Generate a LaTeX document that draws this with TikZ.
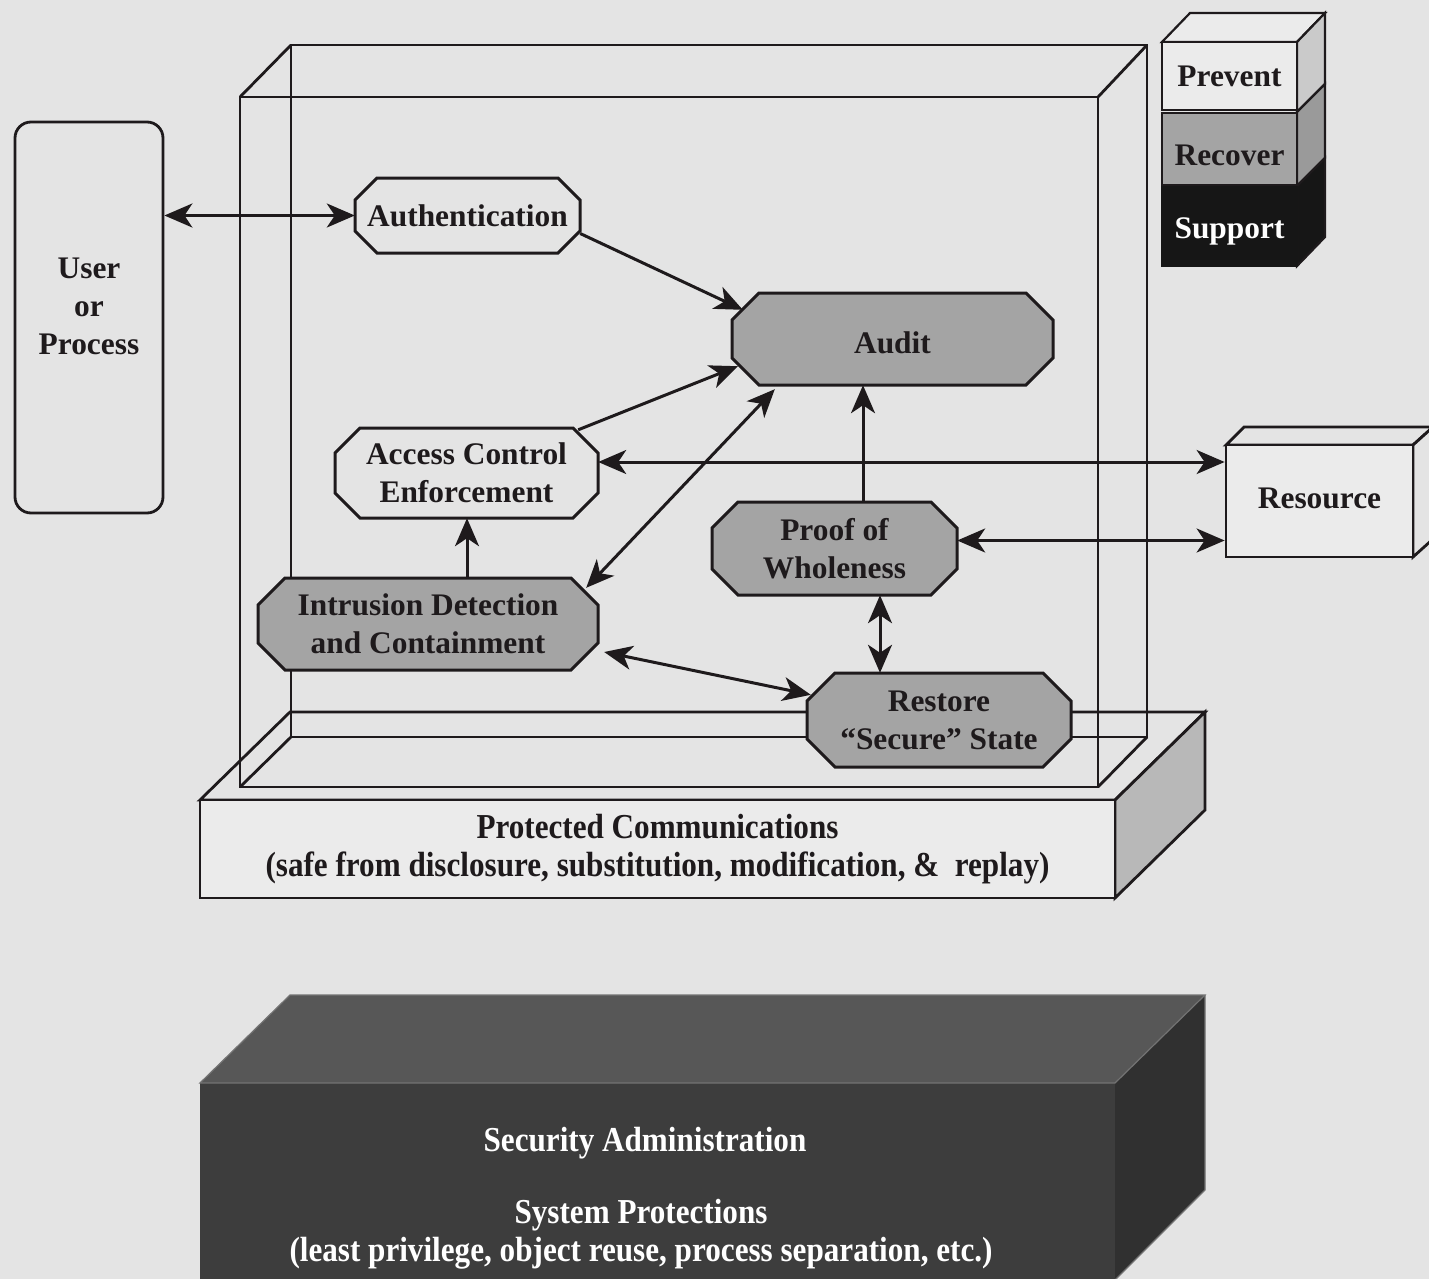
\documentclass[tikz,border=0pt]{standalone}
\usepackage{fontspec}
\setmainfont{Liberation Serif}
\newfontfamily\condfont{Liberation Serif}[FakeStretch=0.89]
\usetikzlibrary{arrows.meta,calc}
\definecolor{bg}{HTML}{E4E4E4}
\definecolor{lite}{HTML}{EBEBEB}
\definecolor{midgray}{HTML}{A4A4A4}
\definecolor{sidegray}{HTML}{B8B8B8}
\definecolor{lightside}{HTML}{CACACA}
\definecolor{recside}{HTML}{9A9A9A}
\definecolor{darktop}{HTML}{575757}
\definecolor{darkfront}{HTML}{3D3D3D}
\definecolor{darkside}{HTML}{303030}
\definecolor{ink}{HTML}{1E1A1C}
\definecolor{suppblack}{HTML}{161616}
\newcommand\octbox[8]{%
  \path[#7] ({#2-#4/2+#6},{#3-#5/2}) -- ({#2+#4/2-#6},{#3-#5/2}) -- ({#2+#4/2},{#3-#5/2+#6}) -- ({#2+#4/2},{#3+#5/2-#6}) -- ({#2+#4/2-#6},{#3+#5/2}) -- ({#2-#4/2+#6},{#3+#5/2}) -- ({#2-#4/2},{#3+#5/2-#6}) -- ({#2-#4/2},{#3-#5/2+#6}) -- cycle;
  \node[txt, minimum width=#4, minimum height=#5] (#1) at (#2,#3) {#8};
}
\newcommand\shiftdown[2]{\raisebox{-#1}[\height][\depth]{#2}}
\begin{document}
\begin{tikzpicture}[x=1pt,y=-1pt,line join=miter,
  wire/.style={draw=ink, line width=2.8pt},
  txt/.style={font=\fontsize{31.4}{38}\selectfont\bfseries, text=ink, align=center, inner sep=0pt},
  ctxt/.style={font=\condfont\fontsize{35}{38}\selectfont\bfseries, text=ink, align=center, inner sep=0pt},
  octwhite/.style={fill=bg, draw=ink, line width=3pt},
  octgray/.style={fill=midgray, draw=ink, line width=3pt},
  bigtip/.tip={Stealth[length=28pt,width=24pt,inset=8pt]},
  conn/.style={draw=ink, line width=3pt, -bigtip},
  biconn/.style={draw=ink, line width=3pt, bigtip-bigtip},
  slabedge/.style={draw=black!55, line width=1.2pt}
]
\useasboundingbox (0,0) rectangle (1429,1279);
\clip (0,0) rectangle (1429,1279);
\fill[bg] (0,0) rectangle (1429,1279);

% ---- lower dark slab
\fill[darktop] (200,1083) -- (290,995) -- (1205,995) -- (1115,1083) -- cycle;
\fill[darkside] (1115,1083) -- (1205,995) -- (1205,1190) -- (1115,1280) -- cycle;
\node[fill=darkfront, minimum width=915, minimum height=220, inner sep=0pt, anchor=north west] (slab) at (200,1083) {};
\draw[slabedge] (200,1083) -- (290,995) -- (1205,995) -- (1115,1083) -- cycle;
\draw[slabedge] (1205,995) -- (1205,1190) -- (1115,1280);
\node[ctxt, text=white] (secadm) at (645,1143) {Security Administration};
\node[ctxt, text=white] (sysprot) at (641,1234) {System Protections\\(least privilege, object reuse, process separation, etc.)};

% ---- protected communications platform
\draw[wire, fill=bg] (200,800) -- (290,712) -- (1205,712) -- (1115,800) -- cycle;
\draw[wire, fill=sidegray] (1115,800) -- (1205,712) -- (1205,810) -- (1115,898) -- cycle;
\node[ctxt, draw=ink, line width=2.8pt, fill=lite, minimum width=915, minimum height=98] (pc) at (657.5,849) {Protected Communications\\(safe from disclosure, substitution, modification, \&\ \ replay)};

% ---- glass box
\draw[wire] (291,45) rectangle (1147,737);
\draw[wire] (240,97) rectangle (1098,787);
\draw[wire] (291,45) -- (240,97) (1147,45) -- (1098,97) (291,737) -- (240,787) (1147,737) -- (1098,787);

% ---- legend stack
\draw[wire, line width=2.2pt, fill=lite] (1162,42) -- (1190,13) -- (1325,13) -- (1297,42) -- cycle;
\draw[wire, line width=2.2pt, fill=lightside] (1297,42) -- (1325,13) -- (1325,84) -- (1297,112) -- cycle;
\draw[wire, line width=2.2pt, fill=recside] (1297,112) -- (1325,84) -- (1325,158) -- (1297,186) -- cycle;
\draw[wire, line width=2.2pt, fill=suppblack] (1297,186) -- (1325,158) -- (1325,237) -- (1297,266) -- cycle;
\node[txt, draw=ink, line width=2.2pt, fill=lite, minimum width=135, minimum height=68] (prevent) at (1229.5,76) {Prevent};
\node[txt, draw=ink, line width=2.2pt, fill=midgray, minimum width=135, minimum height=72] (recover) at (1229.5,149) {\shiftdown{6pt}{Recover}};
\node[txt, text=white, draw=suppblack, line width=2.2pt, fill=suppblack, minimum width=135, minimum height=79] (support) at (1229.5,226.5) {\shiftdown{5pt}{Support}};

% ---- resource box
\draw[wire, fill=bg] (1226,445) -- (1244,427) -- (1433,427) -- (1413,445) -- cycle;
\draw[wire, fill=bg] (1413,445) -- (1433,427) -- (1433,539) -- (1413,557) -- cycle;
\node[txt, draw=ink, line width=2.8pt, fill=lite, minimum width=187, minimum height=112] (res) at (1319.5,501) {\shiftdown{-3pt}{Resource}};

% ---- user
\node[draw=ink, line width=2.8pt, rounded corners=16pt, fill=bg, minimum width=148, minimum height=391] (user) at (89,317.5) {};
\node[txt] (usertxt) at (89,306.5) {User\\or\\Process};

% ---- octagon nodes
\octbox{auth}{467.5}{215.5}{225}{75}{22}{octwhite}{Authentication}
\octbox{audit}{892.5}{339}{321}{92}{27}{octgray}{\shiftdown{4pt}{Audit}}
\octbox{ac}{466.5}{473}{263}{90}{25}{octwhite}{Access Control\\Enforcement}
\octbox{intr}{428}{624}{340}{92}{27}{octgray}{Intrusion Detection\\and Containment}
\octbox{proof}{834.5}{548.5}{245}{93}{26}{octgray}{Proof of\\Wholeness}
\octbox{restore}{939}{720}{264}{94}{28}{octgray}{Restore\\“Secure” State}

% ---- connectors
\draw[biconn] (user.east |- auth.west) -- (auth.west);
\draw[conn] ($(auth.east)+(0,18)$) -- ($(audit.north west)+(11,17)$);
\draw[conn] ($(ac.north east)+(-20,2)$) -- ($(audit.south west)+(6,-19)$);
\draw[biconn] ($(intr.north east)+(-12,10)$) -- ($(audit.south west)+(43,4)$);
\draw[conn] ($(proof.north)+(28.5,0)$) -- ($(audit.south)+(-29.5,0)$);
\coordinate (acr) at ($(ac.east)+(0,-11)$);
\draw[biconn] (acr) -- (acr -| res.west);
\coordinate (pfr) at ($(proof.east)+(0,-8)$);
\draw[biconn] (pfr) -- (pfr -| res.west);
\coordinate (pfs) at ($(proof.south)+(45.5,0)$);
\draw[biconn] (pfs) -- (pfs |- restore.north);
\draw[biconn] ($(intr.east)+(6,28)$) -- ($(restore.north west)+(4,22)$);
\coordinate (ian) at ($(intr.north)+(39,0)$);
\draw[conn] (ian) -- (ian |- ac.south);
\end{tikzpicture}
\end{document}
